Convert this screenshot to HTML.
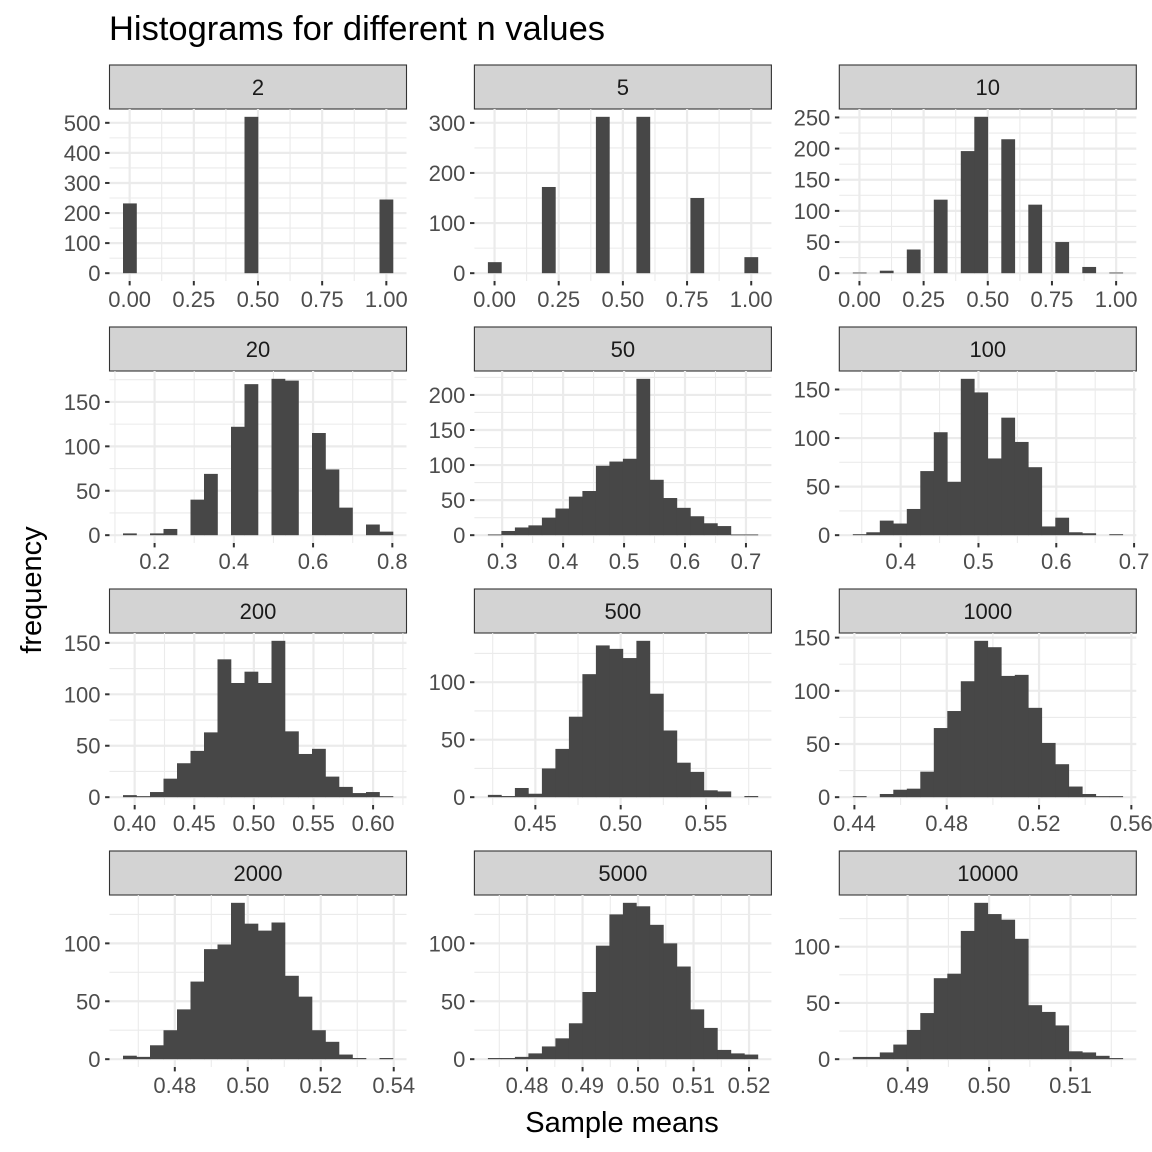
<!DOCTYPE html>
<html>
<head>
<meta charset="utf-8">
<style>
  html,body{margin:0;padding:0;background:#fff;}
  svg{display:block;font-family:"Liberation Sans",Arial,sans-serif;}
</style>
</head>
<body>
<svg id="chart" width="1152" height="1152" viewBox="0 0 1152 1152" xmlns="http://www.w3.org/2000/svg">
  <rect x="0" y="0" width="1152" height="1152" fill="#fff"/>
  <text x="109" y="40" font-size="34.5" fill="#000">Histograms for different n values</text>
  <text x="0" y="0" font-size="29" fill="#000" text-anchor="middle" transform="translate(41,590) rotate(-90)">frequency</text>
  <text x="622" y="1132" font-size="29" fill="#000" text-anchor="middle">Sample means</text>
  <g id="panels"></g>
</svg>
<script>
// ---- data: facet labels, bin ranges (data units), counts (20 bins each), tick values ----
const facetLabels = ["2","5","10","20","50","100","200","500","1000","2000","5000","10000"];
const binLo = [-0.0259,-0.0259,-0.0259,0.1203,0.2766,0.3385,0.3902,0.4222,0.4393,0.4658,0.47294,0.48327];
const binHi = [1.026,1.026,1.026,0.8017,0.7196,0.6855,0.6167,0.5804,0.5563,0.5398,0.5216,0.51641];
const counts2 = [232,0,0,0,0,0,0,0,0,520,0,0,0,0,0,0,0,0,0,245];
const counts5 = [22,0,0,0,172,0,0,0,312,0,0,312,0,0,0,150,0,0,0,32];
const counts10 = [1,0,4,0,38,0,118,0,196,251,0,215,0,110,0,50,0,10,0,1];
const counts20 = [2,0,2,7,0,40,69,0,122,170,0,176,174,0,115,74,31,0,12,4];
const counts50 = [1,6,11,14,25,38,55,63,99,105,109,223,79,53,39,27,17,13,1,1];
const counts100 = [1,3,15,12,27,66,106,55,161,147,79,121,96,70,9,18,3,2,0,1];
const counts200 = [2,1,5,18,33,45,63,134,111,122,111,152,64,42,47,20,10,4,5,1];
const counts500 = [2,1,8,3,25,42,70,107,132,129,121,136,90,58,30,22,6,5,0,1];
const counts1000 = [1,0,3,7,8,24,65,81,109,147,141,114,115,84,51,31,10,3,1,1];
const counts2000 = [3,2,12,25,43,67,95,99,135,117,111,118,72,54,25,15,4,1,0,1];
const counts5000 = [1,1,2,5,11,18,31,58,98,125,135,132,116,100,80,43,27,8,5,4];
const counts10000 = [2,2,6,13,26,41,72,76,114,139,129,124,107,48,42,30,7,6,3,1];
const allCounts = [counts2,counts5,counts10,counts20,counts50,counts100,counts200,counts500,counts1000,counts2000,counts5000,counts10000];
const xTicks = [
  [0,0.25,0.5,0.75,1],[0,0.25,0.5,0.75,1],[0,0.25,0.5,0.75,1],
  [0.2,0.4,0.6,0.8],[0.3,0.4,0.5,0.6,0.7],[0.4,0.5,0.6,0.7],
  [0.40,0.45,0.50,0.55,0.60],[0.45,0.50,0.55],[0.44,0.48,0.52,0.56],
  [0.48,0.50,0.52,0.54],[0.48,0.49,0.50,0.51,0.52],[0.49,0.50,0.51]
];
const xDecimals = [2,2,2,1,1,1,2,2,2,2,2,2];
const yStep = [100,100,50,50,50,50,50,50,50,50,50,50];

// ---- layout ----
const colLeft = [109.5,474.4,839.3];
const panelW = 297;
const rowTop = [109,371,633,895];
const panelH = 172;
const stripH = 44;
const FS = 22;
const NS = "http://www.w3.org/2000/svg";
const root = document.getElementById('panels');

function mk(tag, attrs, parent){
  const e = document.createElementNS(NS, tag);
  for (const k in attrs) e.setAttribute(k, attrs[k]);
  parent.appendChild(e);
  return e;
}

allCounts.forEach((counts, p) => {
  const col = p % 3, row = Math.floor(p / 3);
  const pl = colLeft[col], pt = rowTop[row], pb = pt + panelH, pr = pl + panelW;
  const lo = binLo[p], hi = binHi[p];
  const pad = (hi - lo) * 0.05;
  const xScale = v => pl + (v - (lo - pad)) / ((hi - lo) + 2 * pad) * panelW;
  const ymax = Math.max(...counts);
  const yScale = v => pb - (v + 0.05 * ymax) / (1.1 * ymax) * panelH;

  const g = mk('g', {}, root);
  
  

  const strip = mk('rect', {x: pl, y: pt - stripH, width: panelW, height: stripH, fill: '#d3d3d3', stroke: '#333', 'stroke-width': 1.1}, g);
  
  
  const st = mk('text', {x: pl + panelW / 2, y: pt - stripH / 2 + 8, 'font-size': FS, fill: '#1a1a1a', 'text-anchor': 'middle'}, g);
  st.textContent = facetLabels[p];
  
  

  const ys = yStep[p];
  const yMaj = [];
  for (let v = 0; v <= ymax * 1.05 + 1e-9; v += ys) yMaj.push(v);
  const yMin = [];
  for (let v = -ys / 2; v <= ymax * 1.05; v += ys) if (v >= -0.05 * ymax) yMin.push(v);
  yMin.forEach(v => {
    const l = mk('line', {x1: pl, x2: pr, y1: yScale(v), y2: yScale(v), stroke: '#ebebeb', 'stroke-width': 1.1}, g);
    
    
  });
  const xt = xTicks[p];
  const xstep = xt[1] - xt[0];
  const xMin = [];
  for (let v = xt[0] - xstep / 2; v <= hi + pad; v += xstep) if (v >= lo - pad) xMin.push(v);
  xMin.forEach(v => {
    const l = mk('line', {x1: xScale(v), x2: xScale(v), y1: pt, y2: pb, stroke: '#ebebeb', 'stroke-width': 1.1}, g);
    
    
  });
  yMaj.forEach(v => {
    const l = mk('line', {x1: pl, x2: pr, y1: yScale(v), y2: yScale(v), stroke: '#ebebeb', 'stroke-width': 2.2}, g);
    
    
  });
  xt.forEach(v => {
    const l = mk('line', {x1: xScale(v), x2: xScale(v), y1: pt, y2: pb, stroke: '#ebebeb', 'stroke-width': 2.2}, g);
    
    
  });

  const bw = (hi - lo) / counts.length;
  counts.forEach((c, i) => {
    if (c <= 0) return;
    const x0 = xScale(lo + i * bw), x1 = xScale(lo + (i + 1) * bw);
    const y0 = yScale(c), y1 = yScale(0);
    const r = mk('rect', {x: x0, y: y0, width: x1 - x0 + 0.3, height: Math.max(y1 - y0, 0.8), fill: '#474747'}, g);
    
    
  });

  yMaj.forEach(v => {
    const t = mk('line', {x1: pl - 4.4, x2: pl, y1: yScale(v), y2: yScale(v), stroke: '#333', 'stroke-width': 2}, g);
    
    
    const tl = mk('text', {x: pl - 9, y: yScale(v) + 8, 'font-size': FS, fill: '#4d4d4d', 'text-anchor': 'end'}, g);
    tl.textContent = String(v);
    
    
  });
  xt.forEach(v => {
    const t = mk('line', {x1: xScale(v), x2: xScale(v), y1: pb, y2: pb + 4.4, stroke: '#333', 'stroke-width': 2}, g);
    
    
    const tl = mk('text', {x: xScale(v), y: pb + 26, 'font-size': FS, fill: '#4d4d4d', 'text-anchor': 'middle'}, g);
    tl.textContent = v.toFixed(xDecimals[p]);
    
    
  });
});
</script>
</body>
</html>
